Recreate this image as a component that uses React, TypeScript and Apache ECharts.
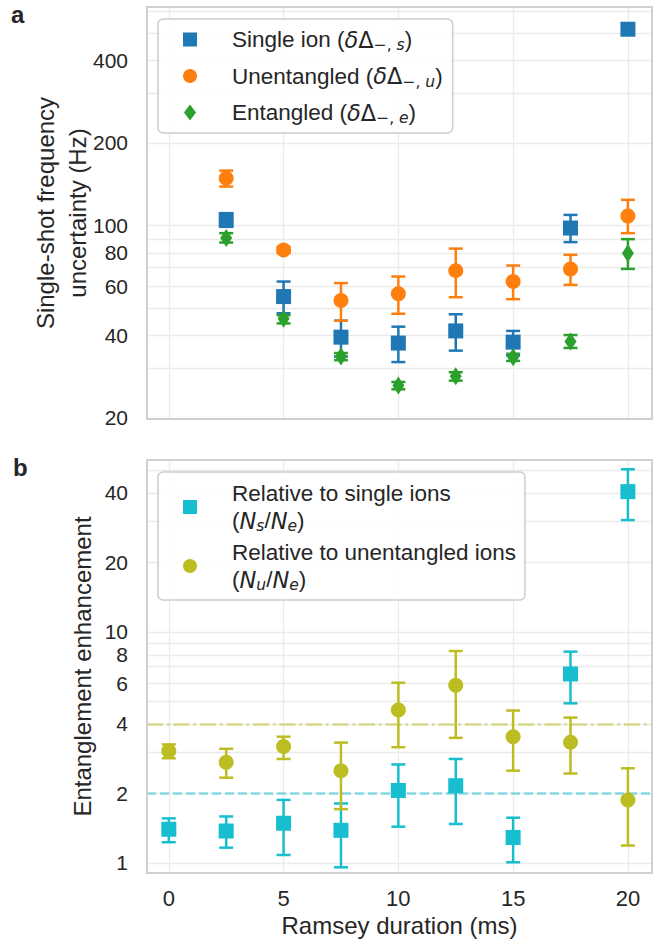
import React, { useEffect, useRef } from "react";
import * as echarts from "echarts";

// ---------- Panel a: single-shot frequency uncertainty (Hz) ----------
const durationsA = [2.5, 5, 7.5, 10, 12.5, 15, 17.5, 20];
const singleIon = [105, 55.2, 39.3, 37.4, 41.4, 37.7, 98, 518];
const singleIonLo = [99, 48.0, 33.4, 31.9, 35.1, 33.7, 87.1, null];
const singleIonHi = [111, 62.6, 45.1, 42.9, 47.6, 41.4, 109.4, null];
const unentangled = [148.8, 81.6, 53.4, 56.5, 68.6, 62.6, 69.6, 108.5];
const unentangledLo = [138.7, 79.5, 45.1, 47.8, 54.9, 54.0, 60.9, 93.9];
const unentangledHi = [158.6, 83.8, 61.8, 65.3, 82.5, 71.6, 78.3, 124.1];
const entangled = [90.1, 45.8, 33.4, 26.2, 28.3, 33.2, 37.9, 79.4];
const entangledLo = [86.8, 44.1, 32.4, 25.4, 27.3, 32.2, 35.9, 69.6];
const entangledHi = [93.9, 47.2, 34.4, 27.0, 29.3, 34.2, 40.0, 89.3];

// ---------- Panel b: entanglement enhancement ----------
const durationsB = [0, 2.5, 5, 7.5, 10, 12.5, 15, 17.5, 20];
const relSingle = [1.4, 1.375, 1.486, 1.385, 2.06, 2.16, 1.29, 6.58, 40.5];
const relSingleLo = [1.23, 1.165, 1.083, 0.958, 1.436, 1.475, 1.007, 4.91, 30.5];
const relSingleHi = [1.56, 1.59, 1.875, 1.81, 2.67, 2.82, 1.57, 8.22, 50.6];
const relUnent = [3.05, 2.73, 3.19, 2.51, 4.59, 5.88, 3.52, 3.33, 1.875];
const relUnentLo = [2.84, 2.34, 2.82, 1.71, 3.17, 3.48, 2.51, 2.44, 1.19];
const relUnentHi = [3.26, 3.12, 3.52, 3.32, 6.03, 8.27, 4.57, 4.26, 2.57];
const refSingle = 2;
const refUnent = 4;

// ---------- ticks / grid values ----------
const xTicks = [0, 5, 10, 15, 20];
const yTicksA = [20, 40, 60, 80, 100, 200, 400];
const yGridA = [20, 30, 40, 50, 60, 70, 80, 90, 100, 200, 300, 400, 500, 600];
const yTicksB = [1, 2, 4, 6, 8, 10, 20, 40];
const yGridB = [1, 2, 3, 4, 5, 6, 7, 8, 9, 10, 20, 30, 40, 50];
const xRange = [-0.95, 21.05];
const yRangeA = [19.8, 624];
const yRangeB = [0.905, 55.5];

const C_BLUE = "#1f77b4";
const C_ORANGE = "#ff7f0e";
const C_GREEN = "#2ca02c";
const C_CYAN = "#17becf";
const C_OLIVE = "#bcbd22";
const TXT = "#262626";
const SANS = "'Liberation Sans', Arial, Helvetica, sans-serif";
const MATH = "'DejaVu Sans', sans-serif";

const lg = Math.log10;

function pts(xs: number[], ys: number[]) {
  return xs.map((x, i) => [x, lg(ys[i])]);
}
function errs(xs: number[], lo: (number | null)[], hi: (number | null)[]) {
  const out: number[][] = [];
  xs.forEach((x, i) => {
    const l = lo[i];
    const h = hi[i];
    if (l != null && h != null) out.push([x, lg(l), lg(h)]);
  });
  return out;
}

function errorSeries(name: string, idx: number, data: number[][], color: string) {
  return {
    name,
    type: "custom",
    xAxisIndex: idx,
    yAxisIndex: idx,
    z: 3,
    silent: true,
    encode: { x: 0, y: [1, 2] },
    data,
    renderItem: (_params: any, api: any) => {
      const x = api.value(0);
      const p1 = api.coord([x, api.value(1)]);
      const p2 = api.coord([x, api.value(2)]);
      const cw = 7;
      const st = { stroke: color, lineWidth: 2.5, fill: "none" };
      return {
        type: "group",
        children: [
          { type: "line", shape: { x1: p1[0], y1: p1[1], x2: p2[0], y2: p2[1] }, style: st },
          { type: "line", shape: { x1: p1[0] - cw, y1: p1[1], x2: p1[0] + cw, y2: p1[1] }, style: st },
          { type: "line", shape: { x1: p2[0] - cw, y1: p2[1], x2: p2[0] + cw, y2: p2[1] }, style: st },
        ],
      };
    },
  };
}

function gridSeries(idx: number, yVals: number[]) {
  return {
    name: "grid" + idx,
    type: "line",
    xAxisIndex: idx,
    yAxisIndex: idx,
    data: [],
    silent: true,
    markLine: {
      silent: true,
      z: 1,
      symbol: ["none", "none"],
      label: { show: false },
      emphasis: { disabled: true },
      lineStyle: { color: "#ebebeb", width: 1.3, type: "solid" },
      data: [
        ...yVals.map((v) => ({ yAxis: lg(v) })),
        ...xTicks.map((v) => ({ xAxis: v })),
      ],
    },
  };
}

const LFS = 22.5;
const SFS = 15.5;
const richBase = {
  sp: { width: 30, fontSize: LFS },
  mi: { fontFamily: MATH, fontStyle: "italic", fontSize: LFS, color: TXT },
  mu: { fontFamily: MATH, fontSize: LFS, color: TXT },
  su: { fontFamily: MATH, fontSize: SFS, lineHeight: SFS, verticalAlign: "bottom", color: TXT },
  si: { fontFamily: MATH, fontStyle: "italic", fontSize: SFS, lineHeight: SFS, verticalAlign: "bottom", color: TXT },
};

const legendLabels: Record<string, string> = {
  "Single ion": "{sp| }Single ion ({mi|δ}{mu|Δ}{su|−, }{si|s})",
  Unentangled: "{sp| }Unentangled ({mi|δ}{mu|Δ}{su|−, }{si|u})",
  Entangled: "{sp| }Entangled ({mi|δ}{mu|Δ}{su|−, }{si|e})",
  "Relative to single ions": "{sp| }Relative to single ions\n{sp| }({mi|N}{si|s}/{mi|N}{si|e})",
  "Relative to unentangled ions": "{sp| }Relative to unentangled ions\n{sp| }({mi|N}{si|u}/{mi|N}{si|e})",
};

function yAxis(idx: number, range: number[], ticks: number[], name: string, gap: number, lh: number) {
  return {
    type: "value",
    gridIndex: idx,
    min: lg(range[0]),
    max: lg(range[1]),
    splitLine: { show: false },
    axisLine: { show: false },
    axisTick: { show: false },
    axisLabel: {
      customValues: ticks.map(lg),
      formatter: (v: number) => String(Math.round(Math.pow(10, v))),
      fontSize: 21,
      lineHeight: 19,
      fontFamily: SANS,
      color: TXT,
      margin: 19,
    },
    name,
    nameLocation: "middle",
    nameGap: gap,
    nameMoveOverlap: false,
    nameTextStyle: { fontSize: 24, fontFamily: SANS, color: TXT, lineHeight: lh },
  };
}

const option = {
  animation: false,
  backgroundColor: "#ffffff",
  grid: [
    { left: 147, top: 7, width: 505, height: 412, show: true, borderColor: "#d0d0d0", borderWidth: 2, z: 10, backgroundColor: "transparent" },
    { left: 147, top: 460, width: 505, height: 413, show: true, borderColor: "#d0d0d0", borderWidth: 2, z: 10, backgroundColor: "transparent" },
  ],
  xAxis: [
    {
      type: "value", gridIndex: 0, min: xRange[0], max: xRange[1],
      splitLine: { show: false }, axisLine: { show: false }, axisTick: { show: false }, axisLabel: { show: false },
    },
    {
      type: "value", gridIndex: 1, min: xRange[0], max: xRange[1],
      splitLine: { show: false }, axisLine: { show: false }, axisTick: { show: false },
      axisLabel: { customValues: xTicks, fontSize: 22, fontFamily: SANS, color: TXT, margin: 14 },
      name: "Ramsey duration (ms)", nameLocation: "middle", nameGap: 38, nameMoveOverlap: false,
      nameTextStyle: { fontSize: 24, fontFamily: SANS, color: TXT, lineHeight: 28 },
    },
  ],
  yAxis: [
    yAxis(0, yRangeA, yTicksA, "Single-shot frequency\nuncertainty (Hz)", 54, 32),
    yAxis(1, yRangeB, yTicksB, "Entanglement enhancement", 51, 28),
  ],
  legend: [
    {
      orient: "vertical", left: 158, top: 19, itemWidth: 14, itemHeight: 16, itemGap: 9.5,
      padding: [7, 10, 7, 25], borderColor: "#cccccc", borderWidth: 1.5, borderRadius: 5,
      backgroundColor: "rgba(255,255,255,0.85)", symbolKeepAspect: true, selectedMode: false,
      data: [
        { name: "Single ion", icon: "path://M0,0H10V10H0Z" },
        { name: "Unentangled", icon: "circle" },
        { name: "Entangled", icon: "path://M6,0L12,8L6,16L0,8Z" },
      ],
      formatter: (n: string) => legendLabels[n],
      textStyle: { fontSize: LFS, fontFamily: SANS, color: TXT, lineHeight: 27, rich: richBase },
    },
    {
      orient: "vertical", left: 158, top: 472, itemWidth: 14, itemHeight: 15, itemGap: 5,
      padding: [8, 9, 7, 25], borderColor: "#cccccc", borderWidth: 1.5, borderRadius: 5,
      backgroundColor: "rgba(255,255,255,0.85)", symbolKeepAspect: true, selectedMode: false,
      data: [
        { name: "Relative to single ions", icon: "path://M0,0H10V10H0Z" },
        { name: "Relative to unentangled ions", icon: "circle" },
      ],
      formatter: (n: string) => legendLabels[n],
      textStyle: { fontSize: LFS, fontFamily: SANS, color: TXT, lineHeight: 27, rich: richBase },
    },
  ],
  graphic: [
    { type: "text", left: 11, top: 2, style: { text: "a", fontSize: 24, fontWeight: "bold", fontFamily: SANS, fill: TXT } },
    { type: "text", left: 13, top: 455, style: { text: "b", fontSize: 24, fontWeight: "bold", fontFamily: SANS, fill: TXT } },
  ],
  series: [
    gridSeries(0, yGridA),
    gridSeries(1, yGridB),
    {
      name: "refs", type: "line", xAxisIndex: 1, yAxisIndex: 1, data: [], silent: true,
      markLine: {
        silent: true, z: 2, symbol: ["none", "none"], label: { show: false }, emphasis: { disabled: true },
        data: [
          { yAxis: lg(refSingle), lineStyle: { color: C_CYAN, opacity: 0.5, width: 2.5, type: [9, 4] } },
          { yAxis: lg(refUnent), lineStyle: { color: C_OLIVE, opacity: 0.5, width: 2.5, type: [16, 4, 2.5, 4] } },
        ],
      },
    },
    errorSeries("err-s", 0, errs(durationsA, singleIonLo, singleIonHi), C_BLUE),
    errorSeries("err-u", 0, errs(durationsA, unentangledLo, unentangledHi), C_ORANGE),
    errorSeries("err-e", 0, errs(durationsA, entangledLo, entangledHi), C_GREEN),
    errorSeries("err-rs", 1, errs(durationsB, relSingleLo, relSingleHi), C_CYAN),
    errorSeries("err-ru", 1, errs(durationsB, relUnentLo, relUnentHi), C_OLIVE),
    { name: "Single ion", type: "scatter", xAxisIndex: 0, yAxisIndex: 0, z: 4, symbol: "rect", symbolSize: 15, itemStyle: { color: C_BLUE, opacity: 1 }, data: pts(durationsA, singleIon) },
    { name: "Unentangled", type: "scatter", xAxisIndex: 0, yAxisIndex: 0, z: 4, symbol: "circle", symbolSize: 15, itemStyle: { color: C_ORANGE, opacity: 1 }, data: pts(durationsA, unentangled) },
    { name: "Entangled", type: "scatter", xAxisIndex: 0, yAxisIndex: 0, z: 4, symbol: "diamond", symbolSize: [12, 18], itemStyle: { color: C_GREEN, opacity: 1 }, data: pts(durationsA, entangled) },
    { name: "Relative to single ions", type: "scatter", xAxisIndex: 1, yAxisIndex: 1, z: 4, symbol: "rect", symbolSize: 15, itemStyle: { color: C_CYAN, opacity: 1 }, data: pts(durationsB, relSingle) },
    { name: "Relative to unentangled ions", type: "scatter", xAxisIndex: 1, yAxisIndex: 1, z: 4, symbol: "circle", symbolSize: 15, itemStyle: { color: C_OLIVE, opacity: 1 }, data: pts(durationsB, relUnent) },
  ],
};

export default function App() {
  const ref = useRef<HTMLDivElement>(null);
  useEffect(() => {
    if (!ref.current) return;
    const chart = echarts.init(ref.current, null, { renderer: "svg" });
    chart.setOption(option as any);
    return () => chart.dispose();
  }, []);
  return (
    <div
      ref={ref}
      style={{ position: "fixed", left: 0, top: 0, width: 667, height: 942, background: "#ffffff" }}
    />
  );
}
